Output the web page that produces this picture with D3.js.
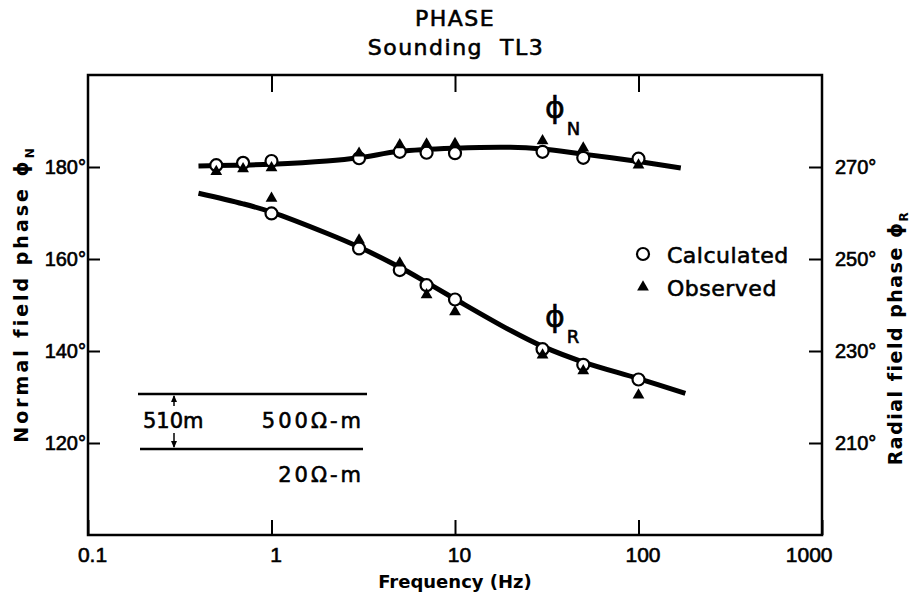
<!DOCTYPE html>
<html>
<head>
<meta charset="utf-8">
<script src="https://cdn.jsdelivr.net/npm/d3@7/dist/d3.min.js"></script>
<style>
  body { margin: 0; background: #fff; }
  svg { display: block; font-family: "DejaVu Sans", sans-serif; }
  .ink { stroke: #000; stroke-width: 0.6px; fill: #000; }
</style>
</head>
<body>
<svg id="chart" width="921" height="607"></svg>
<script>
// frequencies (Hz) where the points were read
const freqN = [0.5, 0.7, 1, 3, 5, 7, 10, 30, 50, 100]
const calcN = [180.4, 180.9, 181.3, 181.9, 183.3, 183.1, 183.0, 183.3, 182.0, 181.8]
const obsN = [179.0, 179.6, 179.8, 183.0, 184.8, 185.0, 185.1, 185.7, 184.1, 180.4]

const freqR = [1, 3, 5, 7, 10, 30, 50, 100]
const calcR = [169.9, 162.3, 157.6, 154.3, 151.2, 140.4, 137.0, 133.8]
const obsR = [173.2, 164.1, 159.1, 152.2, 148.5, 139.1, 135.7, 130.4]

// smooth model curves
const curveNf = [0.4, 0.5, 0.7, 1, 2, 3, 5, 10, 20, 30, 50, 100, 170]
const curveN = [180.2, 180.3, 180.4, 180.6, 181.3, 182.0, 183.4, 184.1, 184.3, 183.9, 182.8, 181.2, 179.8]
const curveRf = [0.4, 0.7, 1, 2, 3, 5, 7, 10, 20, 30, 50, 100, 180]
const curveR = [174.3, 172.0, 170.2, 165.6, 162.6, 158.2, 154.9, 151.3, 144.5, 141.0, 137.6, 134.0, 130.8]

// tick labels
const xTicks = [0.1, 1, 10, 100, 1000]
const xTickLabels = ['0.1', '1', '10', '100', '1000']
const leftTicks = [120, 140, 160, 180]
const rightTicks = [210, 230, 250, 270]

const svg = d3.select('#chart')
const pLeft = 88, pRight = 822, pTop = 75, pBottom = 535

const x = d3.scaleLog().domain([0.1, 1000]).range([pLeft, pRight])
const yL = d3.scaleLinear().domain([100, 200]).range([pBottom, pTop])
const yR = d3.scaleLinear().domain([190, 290]).range([pBottom, pTop])

// title
svg.append('text').attr('class', 'ink').attr('x', 455).attr('y', 26).attr('text-anchor', 'middle')
    .style('font-size', '22px').style('letter-spacing', '1.5px').text('PHASE')
svg.append('text').attr('class', 'ink').attr('x', 456).attr('y', 55).attr('text-anchor', 'middle')
    .style('font-size', '22px').style('letter-spacing', '1.5px')
    .style('white-space', 'pre').text('Sounding  TL3')

// frame
svg.append('rect').attr('x', pLeft).attr('y', pTop)
    .attr('width', pRight - pLeft).attr('height', pBottom - pTop)
    .attr('fill', 'none').attr('stroke', '#000').attr('stroke-width', 2.5)

// axes
const xAxis = d3.axisBottom(x).tickValues(xTicks).tickSize(-15).tickPadding(12)
    .tickFormat((d, i) => xTickLabels[i])
const gx = svg.append('g').attr('transform', `translate(0,${pBottom})`).call(xAxis)
gx.select('.domain').remove()
gx.selectAll('text').attr('class', 'ink').style('font-size', '21px')
gx.selectAll('.tick').filter(d => d === 1000).select('text')
    .attr('text-anchor', 'end').attr('dx', 10)
gx.selectAll('.tick').filter(d => d !== 1000).select('text').attr('dx', 4)

const gxt = svg.append('g').attr('transform', `translate(0,${pTop})`)
    .call(d3.axisTop(x).tickValues([1, 10, 100]).tickSize(-17).tickFormat(''))
gxt.select('.domain').remove()

const gl = svg.append('g').attr('transform', `translate(${pLeft},0)`)
    .call(d3.axisLeft(yL).tickValues(leftTicks).tickSize(-12).tickPadding(2).tickFormat(d => d + '°'))
gl.select('.domain').remove()
gl.selectAll('text').attr('class', 'ink').style('font-size', '20px')

const gr = svg.append('g').attr('transform', `translate(${pRight},0)`)
    .call(d3.axisRight(yR).tickValues(rightTicks).tickSize(-13).tickPadding(13).tickFormat(d => d + '°'))
gr.select('.domain').remove()
gr.selectAll('text').attr('class', 'ink').style('font-size', '20px')

svg.selectAll('.tick line').attr('stroke', '#000').attr('stroke-width', 2)

// axis titles
svg.append('text').attr('x', 455).attr('y', 588).attr('text-anchor', 'middle')
    .style('font-size', '18px').style('font-weight', 'bold').text('Frequency (Hz)')

const lt = svg.append('text').attr('transform', 'translate(28,294) rotate(-90)')
    .attr('text-anchor', 'middle').style('font-size', '19px').style('font-weight', 'bold')
    .style('letter-spacing', '3px')
lt.append('tspan').text('Normal field phase ϕ')
lt.append('tspan').attr('dy', 6).style('font-size', '12px').text('N')

const rt = svg.append('text').attr('transform', 'translate(902,338) rotate(-90)')
    .attr('text-anchor', 'middle').style('font-size', '19px').style('font-weight', 'bold')
    .style('letter-spacing', '1.5px')
rt.append('tspan').text('Radial field phase ϕ')
rt.append('tspan').attr('dy', 6).style('font-size', '12px').text('R')

// curves
const line = d3.line().x(d => x(d[0])).y(d => yL(d[1])).curve(d3.curveCatmullRom)
svg.append('path').datum(curveNf.map((f, i) => [f, curveN[i]]))
    .attr('d', line).attr('fill', 'none').attr('stroke', '#000').attr('stroke-width', 5)
svg.append('path').datum(curveRf.map((f, i) => [f, curveR[i]]))
    .attr('d', line).attr('fill', 'none').attr('stroke', '#000').attr('stroke-width', 5)

// points
const tri = d3.symbol().type(d3.symbolTriangle).size(60)
function circles(fs, vs) {
    svg.append('g').selectAll('circle').data(fs).join('circle')
        .attr('cx', d => x(d)).attr('cy', (d, i) => yL(vs[i])).attr('r', 6)
        .attr('fill', '#fff').attr('stroke', '#000').attr('stroke-width', 2.2)
}
function triangles(fs, vs) {
    svg.append('g').selectAll('path').data(fs).join('path')
        .attr('d', tri).attr('fill', '#000')
        .attr('transform', (d, i) => `translate(${x(d)},${yL(vs[i])})`)
}
circles(freqN, calcN)
circles(freqR, calcR)
triangles(freqN, obsN)
triangles(freqR, obsR)

// curve labels
function phiLabel(px, py, sub, dy) {
    const t = svg.append('text').attr('class', 'ink').attr('x', px).attr('y', py)
    t.append('tspan').style('font-size', '30px').text('ϕ')
    t.append('tspan').attr('dy', dy).attr('dx', 2).style('font-size', '18px').text(sub)
}
phiLabel(545, 118, 'N', 17)
phiLabel(545, 327, 'R', 16)

// legend
svg.append('circle').attr('cx', 643).attr('cy', 254).attr('r', 6)
    .attr('fill', '#fff').attr('stroke', '#000').attr('stroke-width', 2.2)
svg.append('path').attr('d', tri).attr('fill', '#000').attr('transform', 'translate(643,287)')
svg.append('text').attr('class', 'ink').attr('x', 667).attr('y', 263)
    .style('font-size', '22px').style('letter-spacing', '0.5px').text('Calculated')
svg.append('text').attr('class', 'ink').attr('x', 667).attr('y', 296)
    .style('font-size', '22px').style('letter-spacing', '0.5px').text('Observed')

// layer model inset
const inset = svg.append('g').attr('stroke', '#000').attr('stroke-width', 2.5)
inset.append('line').attr('x1', 138).attr('x2', 367).attr('y1', 394).attr('y2', 394)
inset.append('line').attr('x1', 140).attr('x2', 363).attr('y1', 449).attr('y2', 449)
inset.append('line').attr('x1', 174).attr('x2', 174).attr('y1', 396).attr('y2', 406).attr('stroke-width', 1.5)
inset.append('line').attr('x1', 174).attr('x2', 174).attr('y1', 433).attr('y2', 447).attr('stroke-width', 1.5)
inset.append('path').attr('d', 'M174,395 l-3,7 h6 z').attr('fill', '#000').attr('stroke', 'none')
inset.append('path').attr('d', 'M174,448 l-3,-7 h6 z').attr('fill', '#000').attr('stroke', 'none')
svg.append('text').attr('class', 'ink').attr('x', 143).attr('y', 428).style('font-size', '21px').text('510m')
svg.append('text').attr('class', 'ink').attr('x', 364).attr('y', 428).attr('text-anchor', 'end')
    .style('font-size', '21px').style('letter-spacing', '3px').text('500Ω-m')
svg.append('text').attr('class', 'ink').attr('x', 364).attr('y', 482).attr('text-anchor', 'end')
    .style('font-size', '21px').style('letter-spacing', '3px').text('20Ω-m')
</script>
</body>
</html>
